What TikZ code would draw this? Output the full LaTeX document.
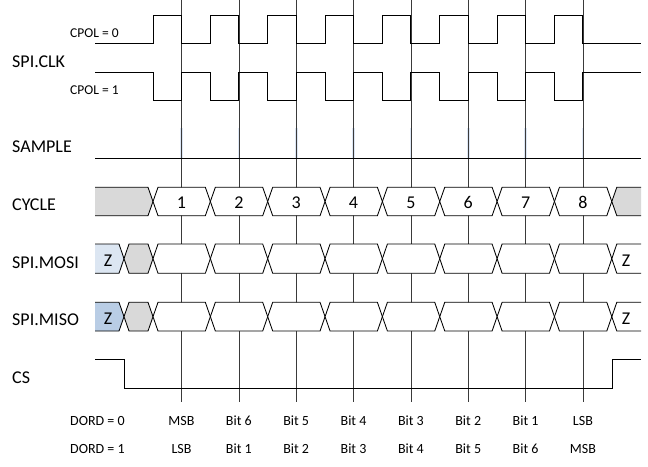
\documentclass[tikz,border=0pt]{standalone}
\usepackage{fontspec}
\setmainfont{Carlito}
\definecolor{gfill}{HTML}{D9D9D9}
\definecolor{zlight}{HTML}{DCE6F2}
\definecolor{zdark}{HTML}{B9CDE5}
\definecolor{vline}{HTML}{3A3A3A}
\definecolor{ticksample}{HTML}{DDE7F5}
\newcommand\hexa[5]{%
  \filldraw[bus, fill=#5] (#1,{(#3+#4)/2}) -- ({#1+5},#3) -- ({#2-5},#3) -- (#2,{(#3+#4)/2}) -- ({#2-5},#4) -- ({#1+5},#4) -- cycle;}
\newcommand\busrow[2]{% top, bottom
  \foreach \k in {0,...,7}{%
    \pgfmathsetmacro\xa{153+57.35*\k}
    \pgfmathsetmacro\xb{\xa+57.35}
    \hexa{\xa}{\xb}{#1}{#2}{white}}
}
\begin{document}
\begin{tikzpicture}[x=1pt,y=-1pt,
  sig/.style={line width=1.0pt, black, line join=miter},
  grid/.style={line width=0.7pt, vline},
  bus/.style={line width=0.85pt, black, line join=miter},
  biglbl/.style={anchor=base west, inner sep=0pt, font=\fontsize{18}{20}\selectfont},
  smalllbl/.style={anchor=base west, inner sep=0pt, font=\fontsize{13.5}{16}\selectfont},
  numlbl/.style={anchor=base, inner sep=0pt, font=\fontsize{18}{20}\selectfont},
  bitlbl/.style={anchor=base, inner sep=0pt, font=\fontsize{14}{16}\selectfont},
  dordlbl/.style={anchor=base west, inner sep=0pt, font=\fontsize{14}{16}\selectfont}]
\useasboundingbox (0,0) rectangle (648,466);

% sample ticks
\foreach \k in {0,...,7}
  \draw[ticksample, line width=2.6pt] ({181.5+57.35*\k},128) -- ({181.5+57.35*\k},158);
% vertical grid lines
\foreach \k in {0,...,7}
  \draw[grid] ({181.5+57.35*\k},0) -- ({181.5+57.35*\k},402);

% clock CPOL = 0
\draw[sig] (95,43.3) \foreach \k in {0,...,7}{
  -- ({153+57.35*\k},43.3) -- ({153+57.35*\k},15) -- ({181.5+57.35*\k},15) -- ({181.5+57.35*\k},43.3)}
  -- (641,43.3);
% clock CPOL = 1
\draw[sig] (95,72) \foreach \k in {0,...,7}{
  -- ({153+57.35*\k},72) -- ({153+57.35*\k},100.7) -- ({181.5+57.35*\k},100.7) -- ({181.5+57.35*\k},72)}
  -- (641,72);
% sample
\draw[sig] (95,158) -- (641,158);

% CYCLE row
\fill[gfill] (95,187.3) -- (148,187.3) -- (153,201.5) -- (148,215.7) -- (95,215.7) -- cycle;
\draw[bus] (95,187.3) -- (148,187.3) -- (153,201.5) -- (148,215.7) -- (95,215.7);
\busrow{187.3}{215.7}
\fill[gfill] (611.8,201.5) -- (616.8,187.3) -- (641,187.3) -- (641,215.7) -- (616.8,215.7) -- cycle;
\draw[bus] (641,187.3) -- (616.8,187.3) -- (611.8,201.5) -- (616.8,215.7) -- (641,215.7);
\foreach \k/\n in {0/1,1/2,2/3,3/4,4/5,5/6,6/7,7/8}
  \node[numlbl] (cyc\n) at ({181.5+57.35*\k},208.5) {\n};

% MOSI row
\fill[zlight] (95,244) -- (119,244) -- (124,258.7) -- (119,273.3) -- (95,273.3) -- cycle;
\draw[bus] (95,244) -- (119,244) -- (124,258.7) -- (119,273.3) -- (95,273.3);
\hexa{124}{153}{244}{273.3}{gfill}
\busrow{244}{273.3}
\draw[bus] (641,244) -- (616.8,244) -- (611.8,258.7) -- (616.8,273.3) -- (641,273.3);
\node[numlbl] (zmosiL) at (108,266.5) {Z};
\node[numlbl] (zmosiR) at (626,266.5) {Z};

% MISO row
\fill[zdark] (95,302.3) -- (119,302.3) -- (124,316.7) -- (119,331) -- (95,331) -- cycle;
\draw[bus] (95,302.3) -- (119,302.3) -- (124,316.7) -- (119,331) -- (95,331);
\hexa{124}{153}{302.3}{331}{gfill}
\busrow{302.3}{331}
\draw[bus] (641,302.3) -- (616.8,302.3) -- (611.8,316.7) -- (616.8,331) -- (641,331);
\node[numlbl] (zmisoL) at (108,324.5) {Z};
\node[numlbl] (zmisoR) at (626,324.5) {Z};

% CS
\draw[sig] (95,359) -- (124,359) -- (124,388.3) -- (612.3,388.3) -- (612.3,359) -- (641,359);

% labels
\node[biglbl] (lclk) at (12,67) {SPI.CLK};
\node[smalllbl] (lcpol0) at (70,37.5) {CPOL = 0};
\node[smalllbl] (lcpol1) at (70,94.5) {CPOL = 1};
\node[biglbl] (lsample) at (12,152) {SAMPLE};
\node[biglbl] (lcycle) at (12,210) {CYCLE};
\node[biglbl] (lmosi) at (12,268) {SPI.MOSI};
\node[biglbl] (lmiso) at (12,325) {SPI.MISO};
\node[biglbl] (lcs) at (12,383) {CS};
\node[dordlbl] (ld0) at (70,425) {DORD = 0};
\node[dordlbl] (ld1) at (70,453) {DORD = 1};
\foreach \k/\p/\q in {0/MSB/LSB,1/Bit 6/Bit 1,2/Bit 5/Bit 2,3/Bit 4/Bit 3,4/Bit 3/Bit 4,5/Bit 2/Bit 5,6/Bit 1/Bit 6,7/LSB/MSB}{
  \node[bitlbl] (da\k) at ({181.5+57.35*\k},425) {\p};
  \node[bitlbl] (db\k) at ({181.5+57.35*\k},453) {\q};
}
\end{tikzpicture}
\end{document}
